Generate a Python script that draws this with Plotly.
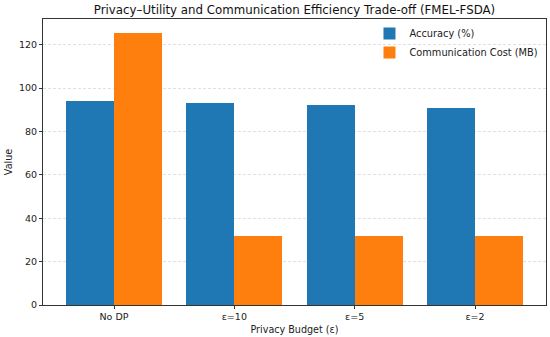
import plotly.graph_objects as go

categories = ["No DP", "ε=10", "ε=5", "ε=2"]
accuracy = [93.8, 93.1, 92.4, 90.8]
comm_cost = [125.3, 31.9, 31.9, 31.9]

fig = go.Figure()
fig.add_trace(go.Bar(x=list(range(4)), y=accuracy, name="Accuracy (%)",
                     marker=dict(color="#1f77b4", line=dict(width=0)), offset=-0.4, width=0.4))
fig.add_trace(go.Bar(x=list(range(4)), y=comm_cost, name="Communication Cost (MB)",
                     marker=dict(color="#ff7f0e", line=dict(width=0)), offset=0.0, width=0.4))

font = "DejaVu Sans"
fig.update_layout(
    width=550, height=337,
    margin=dict(l=43, r=4, t=19, b=32),
    paper_bgcolor="white", plot_bgcolor="white",
    font=dict(family=font, size=10, color="#222"),
    title=dict(text="Privacy–Utility and Communication Efficiency Trade-off (FMEL-FSDA)",
               x=0.5, xref="paper", xanchor="center", y=0.972, yref="container", yanchor="middle",
               font=dict(size=11.8, color="#111")),
    showlegend=True,
    legend=dict(x=0.995, y=1.0, xanchor="right", yanchor="top", bgcolor="rgba(255,255,255,0)",
                font=dict(size=9.8), itemsizing="constant", tracegroupgap=0, traceorder="normal"),
    bargap=0, barmode="overlay",
)
fig.update_xaxes(range=[-0.59, 3.59], tickvals=list(range(4)), ticktext=categories,
                 showline=True, linecolor="#333", linewidth=1, mirror=True,
                 ticks="outside", ticklen=3, tickcolor="#333", showgrid=False, zeroline=False,
                 tickfont=dict(size=9.5),
                 title=dict(text="Privacy Budget (ε)", font=dict(size=9.6), standoff=4))
fig.update_yaxes(range=[0, 131.8], tickvals=[0, 20, 40, 60, 80, 100, 120],
                 showline=True, linecolor="#333", linewidth=1, mirror=True,
                 ticks="outside", ticklen=3, tickcolor="#333",
                 showgrid=True, gridcolor="rgba(0,0,0,0.12)", griddash="3px,2px", gridwidth=0.8,
                 zeroline=False, tickfont=dict(size=9.5),
                 title=dict(text="Value", font=dict(size=9.6), standoff=4))

fig.write_html("out.html", config={"displayModeBar": False},
               post_script="document.body.style.margin='0';")
